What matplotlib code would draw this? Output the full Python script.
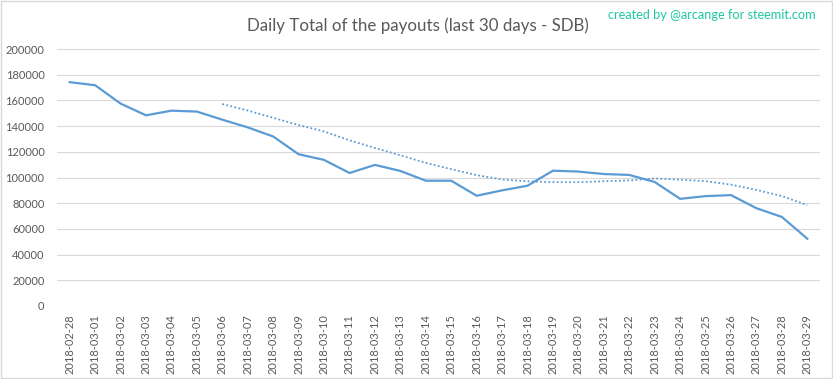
import matplotlib
matplotlib.use("Agg")
import matplotlib.pyplot as plt
import pandas as pd

# daily totals
dates = ['2018-02-28', '2018-03-01', '2018-03-02', '2018-03-03', '2018-03-04',
         '2018-03-05', '2018-03-06', '2018-03-07', '2018-03-08', '2018-03-09',
         '2018-03-10', '2018-03-11', '2018-03-12', '2018-03-13', '2018-03-14',
         '2018-03-15', '2018-03-16', '2018-03-17', '2018-03-18', '2018-03-19',
         '2018-03-20', '2018-03-21', '2018-03-22', '2018-03-23', '2018-03-24',
         '2018-03-25', '2018-03-26', '2018-03-27', '2018-03-28', '2018-03-29']
payouts = [174200, 171800, 157500, 148400, 152000, 151300, 145000, 139000,
           131900, 118100, 113700, 103500, 109800, 105100, 97500, 97500,
           85800, 90000, 93600, 105300, 104600, 102700, 102000, 96500,
           83400, 85500, 86300, 76100, 69300, 52400]
yticks = list(range(0, 200001, 20000))

# 7 day moving average trendline (as in the original chart)
trend = pd.Series(payouts).rolling(7).mean()

plt.rcParams['font.family'] = ['Lato', 'DejaVu Sans']
grey = '#595959'
blue = '#5B9BD5'

fig = plt.figure(figsize=(8.33, 3.79), dpi=100)
ax = fig.add_axes([57 / 833, 1 - 306 / 379, 763 / 833, 257 / 379])

x = range(len(dates))
ax.plot(x, payouts, color=blue, lw=1.6, solid_joinstyle='round')
ax.plot(x, trend, color=blue, lw=1.3, linestyle=(0, (1, 1.3)))

ax.set_xlim(-0.5, len(dates) - 0.5)
ax.set_ylim(0, 200000)
ax.set_yticks(yticks)
ax.set_yticklabels([str(v) for v in yticks])
ax.set_xticks(list(x))
ax.set_xticklabels(dates, rotation=90)
ax.tick_params(length=0, labelsize=8, labelcolor=grey)
ax.tick_params(axis='y', pad=9)
ax.tick_params(axis='x', pad=6)
ax.grid(axis='y', color='#D9D9D9', lw=0.8)
ax.set_axisbelow(True)
for s in ax.spines.values():
    s.set_visible(False)

fig.text(0.502, 1 - 26 / 379, 'Daily Total of the payouts (last 30 days - SDB)',
         ha='center', va='center', fontsize=12.2, color=grey)
fig.text(816 / 833, 1 - 15 / 379, 'created by @arcange for steemit.com',
         ha='right', va='center', fontsize=9.2, color='#1FC7A0')

fig.patches.append(plt.Rectangle((1 / 833, 1 / 379), 831 / 833, 377 / 379,
                                 transform=fig.transFigure, fill=False,
                                 edgecolor='#D9D9D9', lw=1))

fig.savefig('out.png', dpi=100)
